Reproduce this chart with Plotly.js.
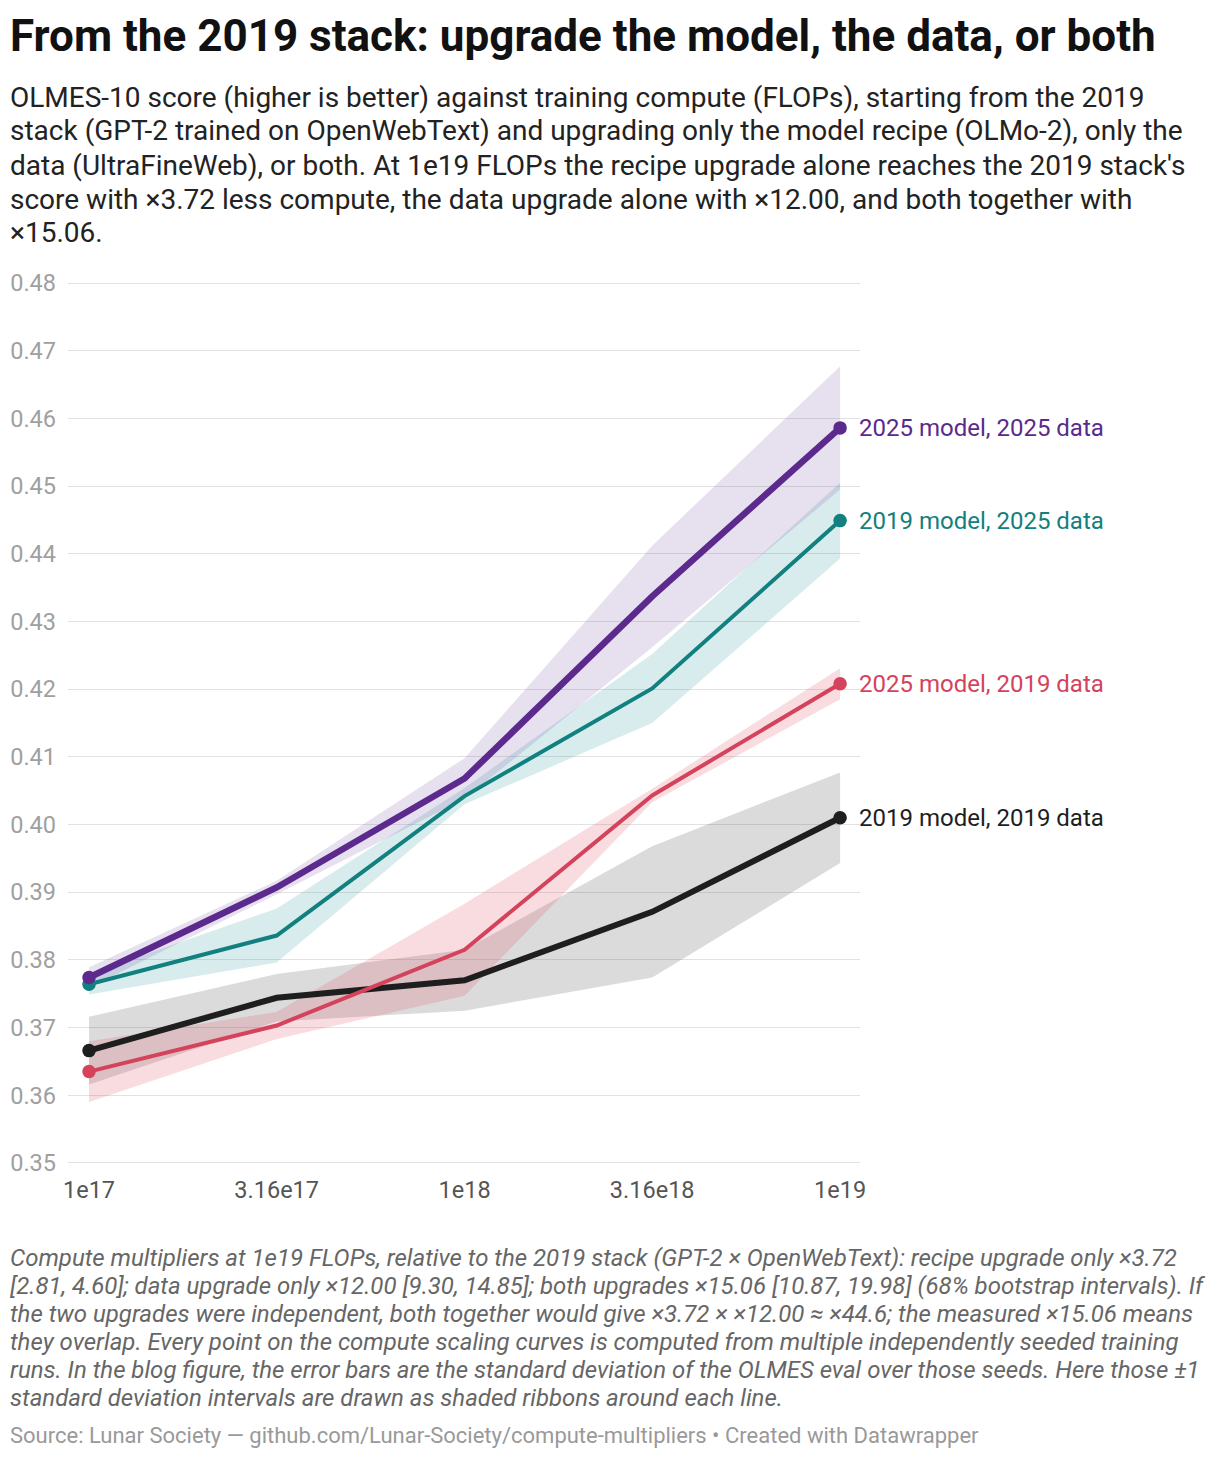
<!DOCTYPE html>
<html>
<head>
<meta charset="utf-8">
<script src="https://cdn.plot.ly/plotly-3.0.1.min.js"></script>
<style>
  html, body { margin: 0; padding: 0; background: #fff; }
  #chart { width: 1220px; height: 1458px; }
</style>
</head>
<body>
<div id="chart"></div>
<script>
// ---- data ----
const flops = [1e17, 3.16e17, 1e18, 3.16e18, 1e19];
const tickLabels = ["1e17", "3.16e17", "1e18", "3.16e18", "1e19"];

const seriesNames = ["2019 model, 2019 data", "2025 model, 2019 data", "2019 model, 2025 data", "2025 model, 2025 data"];

const base2019Mean = [0.3666, 0.3744, 0.3770, 0.3871, 0.4010];
const base2019Sd   = [0.0050, 0.0035, 0.0045, 0.0097, 0.0067];

const recipeMean = [0.3635, 0.3703, 0.3815, 0.4043, 0.4208];
const recipeSd   = [0.0045, 0.0020, 0.0068, 0.0010, 0.0023];

const dataMean = [0.3764, 0.3836, 0.4042, 0.4201, 0.4449];
const dataSd   = [0.0015, 0.0040, 0.0012, 0.0051, 0.0056];

const bothMean = [0.3774, 0.3907, 0.4068, 0.4337, 0.4586];
const bothSd   = [0.0015, 0.0010, 0.0030, 0.0075, 0.0091];

const yTicks = [0.35, 0.36, 0.37, 0.38, 0.39, 0.40, 0.41, 0.42, 0.43, 0.44, 0.45, 0.46, 0.47, 0.48];

// ---- styling ----
const series = [
  {name: seriesNames[0], mean: base2019Mean, sd: base2019Sd, color: "#1e1e1e", band: "rgba(40,40,40,0.17)", width: 6},
  {name: seriesNames[1], mean: recipeMean, sd: recipeSd, color: "#d4435b", band: "rgba(222,80,100,0.20)", width: 4},
  {name: seriesNames[2], mean: dataMean, sd: dataSd, color: "#12807f", band: "rgba(40,150,160,0.18)", width: 4},
  {name: seriesNames[3], mean: bothMean, sd: bothSd, color: "#5b2a8c", band: "rgba(110,70,160,0.17)", width: 6.5}
];

const traces = [];
series.forEach(s => {
  const upper = s.mean.map((m, i) => m + s.sd[i]);
  const lower = s.mean.map((m, i) => m - s.sd[i]);
  traces.push({
    x: flops.concat(flops.slice().reverse()),
    y: upper.concat(lower.slice().reverse()),
    type: "scatter", mode: "lines", fill: "toself",
    fillcolor: s.band, line: {width: 0, color: "rgba(0,0,0,0)"},
    hoverinfo: "skip", showlegend: false
  });
});
series.forEach(s => {
  traces.push({
    x: flops, y: s.mean, name: s.name,
    type: "scatter", mode: "lines",
    line: {color: s.color, width: s.width},
    showlegend: false, hoverinfo: "x+y"
  });
  // endpoint dots
  traces.push({
    x: [flops[0], flops[flops.length - 1]],
    y: [s.mean[0], s.mean[s.mean.length - 1]],
    type: "scatter", mode: "markers",
    marker: {color: s.color, size: 13.5, opacity: 1, line: {width: 0}},
    showlegend: false, hoverinfo: "skip"
  });
});

// plot area geometry in pixels (y range padded by 0.0003 on each side so edge gridlines draw)
const L = 68, R = 860, T = 281, B = 1165;
const px = x => (x - L) / (R - L);
const py = y => (B - y) / (B - T);

const annotations = [];
function textLine(txt, xpx, ypx, size, color, opts) {
  annotations.push(Object.assign({
    text: txt, xref: "paper", yref: "paper", x: px(xpx), y: py(ypx),
    xanchor: "left", yanchor: "middle", showarrow: false, borderpad: 0,
    font: {family: "Roboto, sans-serif", size: size, color: color}, align: "left"
  }, opts || {}));
}

textLine("<b>From the 2019 stack: upgrade the model, the data, or both</b>", 9, 36, 44, "#111111");

const subtitle = [
  "OLMES-10 score (higher is better) against training compute (FLOPs), starting from the 2019",
  "stack (GPT-2 trained on OpenWebText) and upgrading only the model recipe (OLMo-2), only the",
  "data (UltraFineWeb), or both. At 1e19 FLOPs the recipe upgrade alone reaches the 2019 stack's",
  "score with ×3.72 less compute, the data upgrade alone with ×12.00, and both together with",
  "×15.06."
];
subtitle.forEach((t, i) => textLine(t, 9, 97 + 34 * i, 28, "#222222"));

const notes = [
  "Compute multipliers at 1e19 FLOPs, relative to the 2019 stack (GPT-2 × OpenWebText): recipe upgrade only ×3.72",
  "[2.81, 4.60]; data upgrade only ×12.00 [9.30, 14.85]; both upgrades ×15.06 [10.87, 19.98] (68% bootstrap intervals). If",
  "the two upgrades were independent, both together would give ×3.72 × ×12.00 ≈ ×44.6; the measured ×15.06 means",
  "they overlap. Every point on the compute scaling curves is computed from multiple independently seeded training",
  "runs. In the blog figure, the error bars are the standard deviation of the OLMES eval over those seeds. Here those ±1",
  "standard deviation intervals are drawn as shaded ribbons around each line."
];
notes.forEach((t, i) => textLine("<i>" + t + "</i>", 9, 1258 + 28 * i, 24, "#666666"));

textLine("Source: Lunar Society — github.com/Lunar-Society/compute-multipliers • Created with Datawrapper", 9, 1435, 22, "#999999");

// end labels
series.forEach(s => {
  annotations.push({
    text: s.name, xref: "x", yref: "y",
    x: Math.log10(flops[flops.length - 1]), y: s.mean[s.mean.length - 1],
    xanchor: "left", yanchor: "middle", xshift: 18, showarrow: false, borderpad: 0,
    font: {family: "Roboto, sans-serif", size: 24, color: s.color}
  });
});

const layout = {
  width: 1220, height: 1458,
  margin: {l: L, r: 1220 - R, t: T, b: 1458 - B, pad: 0},
  paper_bgcolor: "#ffffff", plot_bgcolor: "#ffffff",
  font: {family: "Roboto, sans-serif"},
  showlegend: false,
  xaxis: {
    type: "log", range: [16.944, 19.053],
    tickvals: flops, ticktext: tickLabels,
    showgrid: false, zeroline: false, showline: false, ticks: "",
    tickfont: {size: 23.5, color: "#555555", family: "Roboto, sans-serif"},
    ticklabelstandoff: 8, fixedrange: true
  },
  yaxis: {
    range: [0.3497, 0.4803], tickvals: yTicks,
    ticktext: yTicks.map(v => v.toFixed(2)),
    showgrid: true, gridcolor: "#e2e2e2", gridwidth: 1,
    zeroline: false, showline: false, ticks: "",
    tickfont: {size: 23.5, color: "#a0a0a0", family: "Roboto, sans-serif"},
    ticklabelstandoff: 11, fixedrange: true
  },
  annotations: annotations
};

Plotly.newPlot("chart", traces, layout, {displayModeBar: false, staticPlot: true});
</script>
</body>
</html>
